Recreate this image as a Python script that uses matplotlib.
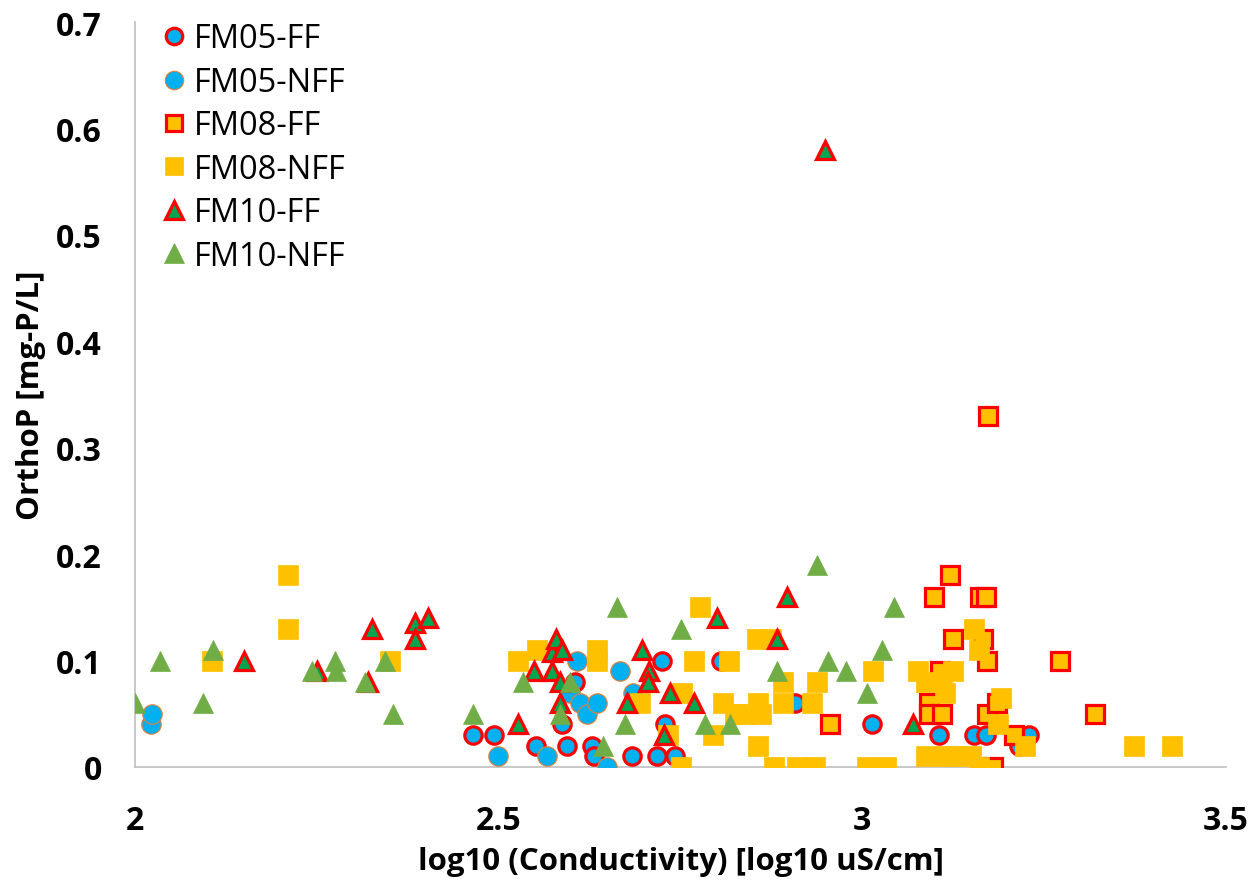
import matplotlib
matplotlib.use("Agg")
import matplotlib.pyplot as plt

# ---------------- data ----------------
fm05_ff_x = [2.465, 2.493, 2.552, 2.587, 2.594, 2.605, 2.629, 2.631, 2.684, 2.718,
             2.725, 2.729, 2.743, 2.805, 2.908, 3.013, 3.106, 3.154, 3.170, 3.215, 3.229]
fm05_ff_y = [0.03, 0.03, 0.02, 0.04, 0.02, 0.08, 0.02, 0.01, 0.01, 0.01,
             0.10, 0.04, 0.01, 0.10, 0.06, 0.04, 0.03, 0.03, 0.03, 0.02, 0.03]

fm05_nff_x = [2.022, 2.023, 2.499, 2.566, 2.598, 2.608, 2.612, 2.622, 2.635, 2.649,
              2.667, 2.685]
fm05_nff_y = [0.04, 0.05, 0.01, 0.01, 0.07, 0.10, 0.06, 0.05, 0.06, 0.00,
              0.09, 0.07]

fm08_ff_x = [2.955, 3.091, 3.091, 3.098, 3.107, 3.110, 3.120, 3.124, 3.162, 3.166,
             3.170, 3.172, 3.172, 3.173, 3.179, 3.185, 3.208, 3.272, 3.320]
fm08_ff_y = [0.04, 0.06, 0.05, 0.16, 0.09, 0.05, 0.18, 0.12, 0.16, 0.12,
             0.16, 0.10, 0.05, 0.33, 0.00, 0.06, 0.03, 0.10, 0.05]

fm08_nff_x = [2.106, 2.210, 2.210, 2.350, 2.527, 2.553, 2.635, 2.635, 2.695, 2.733,
              2.750, 2.752, 2.768, 2.777, 2.795, 2.809, 2.817, 2.825, 2.839, 2.856,
              2.857, 2.860, 2.855, 2.875, 2.878, 2.891, 2.891, 2.910, 2.931, 2.935,
              2.938, 3.007, 3.014, 3.032, 3.076, 3.087, 3.087, 3.110, 3.114, 3.125,
              3.114, 3.132, 3.150, 3.153, 3.160, 3.190, 3.186, 3.224, 3.160, 3.373,
              3.426]
fm08_nff_y = [0.10, 0.18, 0.13, 0.10, 0.10, 0.11, 0.11, 0.10, 0.06, 0.03,
              0.00, 0.07, 0.10, 0.15, 0.03, 0.06, 0.10, 0.05, 0.05, 0.02,
              0.06, 0.05, 0.12, 0.12, 0.00, 0.08, 0.06, 0.00, 0.06, 0.00,
              0.08, 0.00, 0.09, 0.00, 0.09, 0.08, 0.01, 0.08, 0.07, 0.09,
              0.01, 0.01, 0.01, 0.13, 0.11, 0.065, 0.04, 0.02, 0.00, 0.02,
              0.02]

fm10_ff_x = [2.150, 2.250, 2.320, 2.326, 2.385, 2.403, 2.385, 2.527, 2.548, 2.573,
             2.573, 2.579, 2.587, 2.585, 2.585, 2.677, 2.697, 2.707, 2.705, 2.735,
             2.727, 2.768, 2.800, 2.883, 2.897, 2.949, 3.070]
fm10_ff_y = [0.10, 0.09, 0.08, 0.13, 0.135, 0.14, 0.12, 0.04, 0.09, 0.09,
             0.108, 0.12, 0.11, 0.08, 0.06, 0.06, 0.11, 0.09, 0.08, 0.07,
             0.03, 0.06, 0.14, 0.12, 0.16, 0.58, 0.04]

fm10_nff_x = [2.000, 2.034, 2.094, 2.107, 2.244, 2.275, 2.277, 2.316, 2.344, 2.355,
              2.465, 2.534, 2.598, 2.585, 2.644, 2.663, 2.674, 2.750, 2.784, 2.818,
              2.883, 2.937, 2.953, 2.977, 3.007, 3.027, 3.044]
fm10_nff_y = [0.06, 0.10, 0.06, 0.11, 0.09, 0.10, 0.09, 0.08, 0.10, 0.05,
              0.05, 0.08, 0.08, 0.05, 0.02, 0.15, 0.04, 0.13, 0.04, 0.04,
              0.09, 0.19, 0.10, 0.09, 0.07, 0.11, 0.15]

series_labels = ["FM05-FF", "FM05-NFF", "FM08-FF", "FM08-NFF", "FM10-FF", "FM10-NFF"]
x_ticks = [2, 2.5, 3, 3.5]
x_tick_labels = ["2", "2.5", "3", "3.5"]
y_ticks = [0, 0.1, 0.2, 0.3, 0.4, 0.5, 0.6, 0.7]
y_tick_labels = ["0", "0.1", "0.2", "0.3", "0.4", "0.5", "0.6", "0.7"]

# ---------------- styling ----------------
BLUE = "#00B0F0"
RED = "#FF0000"
ORANGE = "#ED7D31"
YELLOW = "#FFC000"
GREEN = "#70AD47"
DKGREEN = "#00A550"
AXIS = "#BFBFBF"
FONT = "Open Sans"

W, H = 1252, 887
fig = plt.figure(figsize=(W / 100, H / 100), dpi=100)
ax_h = (768 - 23) / H
ax = fig.add_axes([135 / W, 1 - 768 / H, (1226 - 135) / W, ax_h])

ms_ff = 12.5
ms_nff = 14.0
ew_ff = 2.3

ax.plot(fm05_ff_x, fm05_ff_y, ls="none", marker="o", ms=ms_ff, mfc=BLUE, mec=RED, mew=ew_ff,
        label=series_labels[0], zorder=3)
ax.plot(fm05_nff_x, fm05_nff_y, ls="none", marker="o", ms=ms_nff, mfc=BLUE, mec=ORANGE, mew=0.8,
        label=series_labels[1], zorder=4)
ax.plot(fm08_ff_x, fm08_ff_y, ls="none", marker="s", ms=ms_ff, mfc=YELLOW, mec=RED, mew=ew_ff,
        label=series_labels[2], zorder=5)
ax.plot(fm08_nff_x, fm08_nff_y, ls="none", marker="s", ms=ms_nff, mfc=YELLOW, mec=YELLOW, mew=0.5,
        label=series_labels[3], zorder=6)
ax.plot(fm10_ff_x, fm10_ff_y, ls="none", marker="^", ms=ms_ff + 1, mfc=DKGREEN, mec=RED, mew=ew_ff,
        label=series_labels[4], zorder=7)
ax.plot(fm10_nff_x, fm10_nff_y, ls="none", marker="^", ms=ms_nff + 1, mfc=GREEN, mec=GREEN, mew=0.5,
        label=series_labels[5], zorder=8)

ax.set_xlim(2, 3.5)
ax.set_ylim(0, 0.7)
ax.set_xticks(x_ticks)
ax.set_xticklabels(x_tick_labels)
ax.set_yticks(y_ticks)
ax.set_yticklabels(y_tick_labels)

for s in ["top", "right"]:
    ax.spines[s].set_visible(False)
for s in ["left", "bottom"]:
    ax.spines[s].set_color(AXIS)
    ax.spines[s].set_linewidth(1.2)
    ax.spines[s].set_zorder(1)

ax.tick_params(axis="both", length=0)
ax.tick_params(axis="y", pad=24)
ax.tick_params(axis="x", pad=27)
for lab in ax.get_xticklabels() + ax.get_yticklabels():
    lab.set_fontfamily(FONT)
    lab.set_fontweight("bold")
    lab.set_fontsize(23)

ax.set_xlabel("log10 (Conductivity) [log10 uS/cm]", fontfamily=FONT, fontweight="bold",
              fontsize=22.5, va="center")
ax.xaxis.set_label_coords(0.5, (768 - 862) / (768 - 23))
ax.set_ylabel("OrthoP [mg-P/L]", fontfamily=FONT, fontweight="bold", fontsize=22.5,
              va="center")
ax.yaxis.set_label_coords(-(135 - 31) / (1226 - 135), 0.5)

leg = ax.legend(loc="upper left", bbox_to_anchor=(0.0, 1.03), frameon=False,
                prop=dict(family=FONT, size=23.5), handletextpad=0.1,
                labelspacing=0.32, borderaxespad=0.3, handlelength=1.0, markerscale=0.95)

fig.savefig("out.png", dpi=100, facecolor="white")
